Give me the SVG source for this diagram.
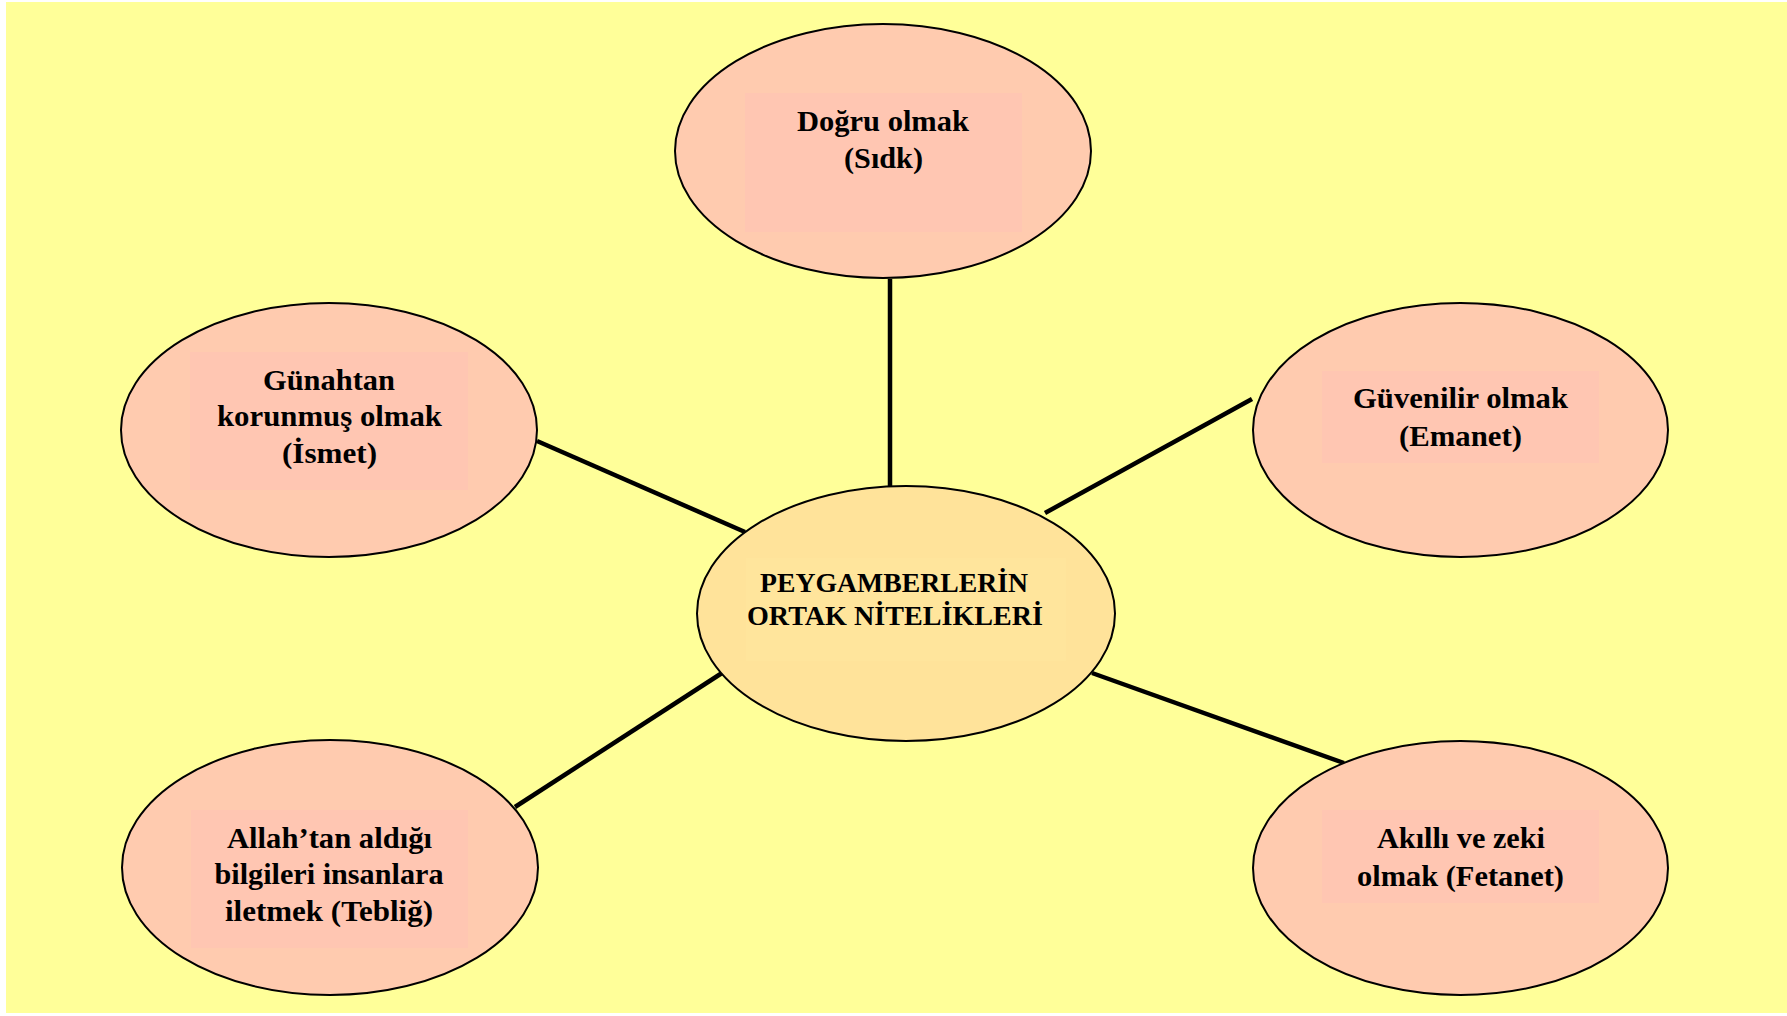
<svg xmlns="http://www.w3.org/2000/svg" width="1787" height="1016" viewBox="0 0 1787 1016">
<style>
.bg{fill:#FFFF99}
.node{fill:#FFCBAF;stroke:#000;stroke-width:2}
.inner{fill:#FFC6B2}
.center{fill:#FFE39A;stroke:#000;stroke-width:2}
.cinner{fill:#FFE59C}
.lbl{font-family:"Liberation Serif","Times New Roman",serif;font-weight:bold;font-size:30px;fill:#000;text-anchor:middle}
.clbl{font-size:27.5px}
.conn{stroke:#000;stroke-width:4.5;stroke-linecap:butt;fill:none}
</style>
<rect x="0" y="0" width="1787" height="1016" style="fill:#fff"/>
<rect class="bg" x="6" y="2" width="1781" height="1011"/>
<g id="connectors">
<line class="conn" x1="890" y1="279" x2="890" y2="486"/>
<line class="conn" x1="537" y1="441" x2="745" y2="532"/>
<line class="conn" x1="1252" y1="399" x2="1045" y2="513"/>
<line class="conn" x1="515" y1="807" x2="722" y2="673"/>
<line class="conn" x1="1092" y1="673" x2="1344" y2="763"/>
</g>
<g id="node-center">
<ellipse class="center" cx="906" cy="613.5" rx="209" ry="127.5"/>
<rect class="cinner" x="746" y="558" width="320" height="103"/>
<text class="lbl clbl" x="894" y="592" textLength="268" lengthAdjust="spacingAndGlyphs">PEYGAMBERLERİN</text>
<text class="lbl clbl" x="895" y="625" textLength="296" lengthAdjust="spacingAndGlyphs">ORTAK NİTELİKLERİ</text>
</g>
<g id="node-sidk">
<ellipse class="node" cx="883" cy="151" rx="208" ry="127"/>
<rect class="inner" x="745" y="93" width="277" height="139"/>
<text class="lbl" x="883" y="131" textLength="172" lengthAdjust="spacingAndGlyphs">Doğru olmak</text>
<text class="lbl" x="883.5" y="168" textLength="79" lengthAdjust="spacingAndGlyphs">(Sıdk)</text>
</g>
<g id="node-ismet">
<ellipse class="node" cx="329" cy="430" rx="208" ry="127"/>
<rect class="inner" x="190" y="352" width="278" height="138"/>
<text class="lbl" x="329" y="390" textLength="132" lengthAdjust="spacingAndGlyphs">Günahtan</text>
<text class="lbl" x="329.5" y="426" textLength="225" lengthAdjust="spacingAndGlyphs">korunmuş olmak</text>
<text class="lbl" x="329.5" y="463" textLength="95" lengthAdjust="spacingAndGlyphs">(İsmet)</text>
</g>
<g id="node-emanet">
<ellipse class="node" cx="1460.5" cy="430" rx="207.5" ry="127"/>
<rect class="inner" x="1322" y="371" width="277" height="92"/>
<text class="lbl" x="1460.5" y="408" textLength="215" lengthAdjust="spacingAndGlyphs">Güvenilir olmak</text>
<text class="lbl" x="1460.5" y="446" textLength="123" lengthAdjust="spacingAndGlyphs">(Emanet)</text>
</g>
<g id="node-teblig">
<ellipse class="node" cx="330" cy="867.5" rx="208" ry="127.5"/>
<rect class="inner" x="191" y="810" width="277" height="138"/>
<text class="lbl" x="329.5" y="848" textLength="205" lengthAdjust="spacingAndGlyphs">Allah’tan aldığı</text>
<text class="lbl" x="329" y="884" textLength="229" lengthAdjust="spacingAndGlyphs">bilgileri insanlara</text>
<text class="lbl" x="329" y="921" textLength="208" lengthAdjust="spacingAndGlyphs">iletmek (Tebliğ)</text>
</g>
<g id="node-fetanet">
<ellipse class="node" cx="1460.5" cy="868" rx="207.5" ry="127"/>
<rect class="inner" x="1322" y="810" width="277" height="93"/>
<text class="lbl" x="1461" y="848" textLength="168" lengthAdjust="spacingAndGlyphs">Akıllı ve zeki</text>
<text class="lbl" x="1460.5" y="886" textLength="207" lengthAdjust="spacingAndGlyphs">olmak (Fetanet)</text>
</g>
</svg>
